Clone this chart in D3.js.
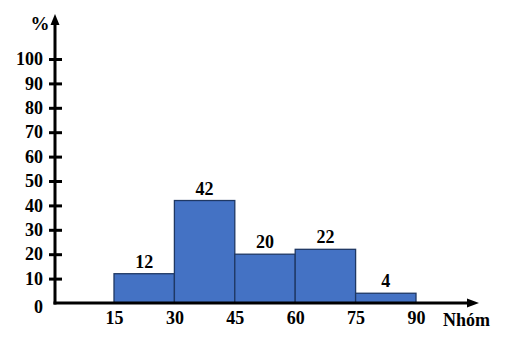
<!DOCTYPE html>
<html>
<head>
<meta charset="utf-8">
<script src="https://cdn.jsdelivr.net/npm/d3@7"></script>
<style>
  body { margin: 0; background: #fff; }
  text { font-family: "Liberation Serif", "Times New Roman", serif; font-weight: bold; fill: #000; }
</style>
</head>
<body>
<div id="chart"></div>
<script>
// histogram data
const binStarts = [15, 30, 45, 60, 75];
const binWidth = 15;
const percents = [12, 42, 20, 22, 4];
const yTicks = [0, 10, 20, 30, 40, 50, 60, 70, 80, 90, 100];
const xTicks = [15, 30, 45, 60, 75, 90];

const width = 515, height = 337;
const originX = 55, originY = 303;

const svg = d3.select('#chart').append('svg')
  .attr('width', width)
  .attr('height', height);

const x = d3.scaleLinear().domain([0, 90]).range([53.6, 416]);
const y = d3.scaleLinear().domain([0, 100]).range([originY, 59]);

// bars
svg.selectAll('.bar')
  .data(binStarts)
  .enter()
  .append('rect')
  .classed('bar', true)
  .attr('x', d => x(d))
  .attr('y', (d, i) => y(percents[i]))
  .attr('width', d => x(d + binWidth) - x(d))
  .attr('height', (d, i) => originY - y(percents[i]))
  .attr('fill', '#4472C4')
  .attr('stroke', '#1F3864')
  .attr('stroke-width', 1.3);

svg.selectAll('.bar-label')
  .data(binStarts)
  .enter()
  .append('text')
  .classed('bar-label', true)
  .attr('x', d => x(d + binWidth / 2))
  .attr('y', (d, i) => y(percents[i]) - 6)
  .attr('text-anchor', 'middle')
  .style('font-size', '18px')
  .text((d, i) => percents[i]);

// y axis
const yAxis = d3.axisLeft(y)
  .tickValues(yTicks)
  .tickSize(6)
  .tickPadding(6);

const gy = svg.append('g')
  .attr('transform', `translate(${originX},0)`)
  .call(yAxis);
gy.select('.domain').remove();
gy.selectAll('.tick line')
  .attr('x1', -6).attr('x2', 7)
  .attr('stroke', '#000').attr('stroke-width', 3)
  .filter(d => d === 0).remove();
gy.selectAll('.tick text')
  .style('font-size', '18px')
  .style('font-family', '"Liberation Serif", serif')
  .attr('dy', d => d === 0 ? '0.5em' : '0.32em');

// x axis
const xAxis = d3.axisBottom(x)
  .tickValues(xTicks)
  .tickSize(0)
  .tickPadding(8);

const gx = svg.append('g')
  .attr('transform', `translate(0,${originY})`)
  .call(xAxis);
gx.select('.domain').remove();
gx.selectAll('.tick text')
  .style('font-size', '18px')
  .style('font-family', '"Liberation Serif", serif');

// axis lines with arrows
svg.append('line')
  .attr('x1', originX).attr('y1', originY + 1.5)
  .attr('x2', originX).attr('y2', 20)
  .attr('stroke', '#000').attr('stroke-width', 3);
svg.append('path')
  .attr('d', `M${originX},14 L${originX - 4.5},25 L${originX + 4.5},25 Z`)
  .attr('fill', '#000');

svg.append('line')
  .attr('x1', originX - 1.5).attr('y1', originY)
  .attr('x2', 472).attr('y2', originY)
  .attr('stroke', '#000').attr('stroke-width', 3);
svg.append('path')
  .attr('d', `M479,${originY} L467,${originY - 4.5} L467,${originY + 4.5} Z`)
  .attr('fill', '#000');

// axis titles
svg.append('text')
  .attr('x', 40).attr('y', 30)
  .attr('text-anchor', 'middle')
  .style('font-size', '19px')
  .text('%');

svg.append('text')
  .attr('x', 443).attr('y', 326)
  .style('font-size', '18px')
  .text('Nhóm');
</script>
</body>
</html>
